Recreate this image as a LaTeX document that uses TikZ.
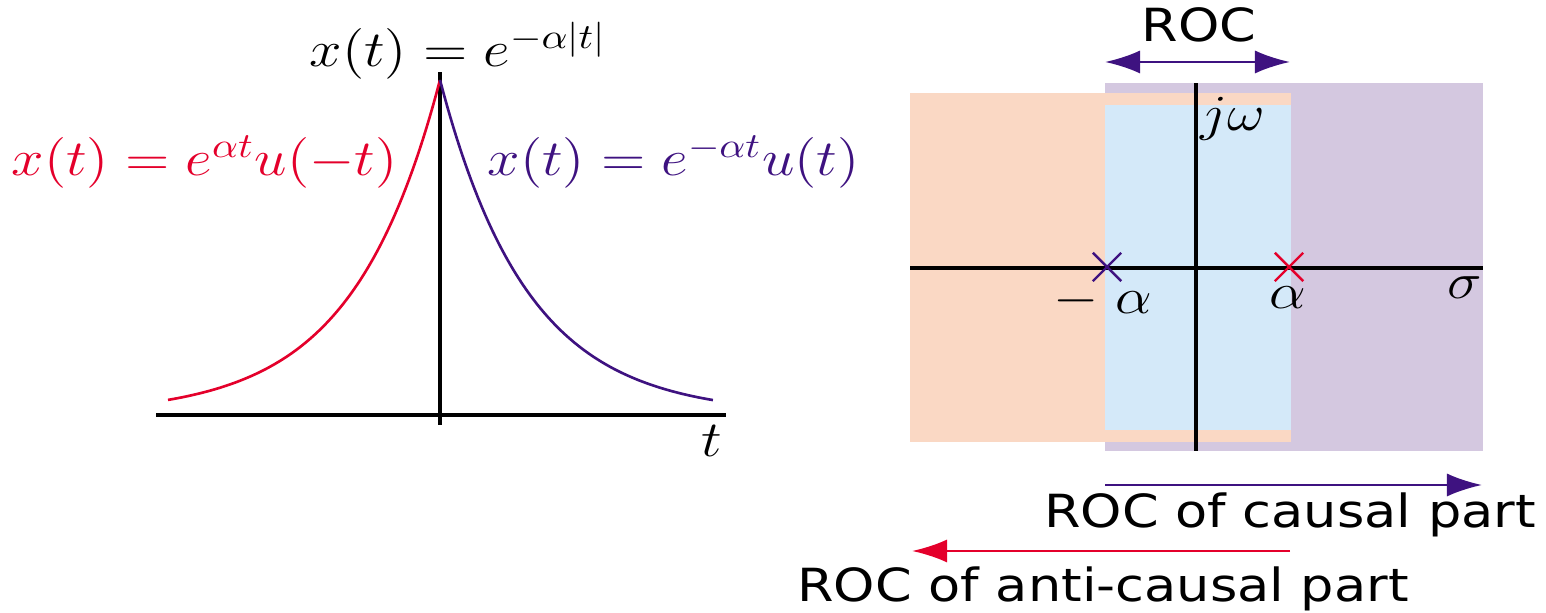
\documentclass[tikz,border=0pt]{standalone}
\usepackage{fontspec}
\usepackage{amsmath}
\usepackage{graphicx}
\usetikzlibrary{arrows.meta,positioning,shapes.misc}

\newfontfamily\rocfont[FakeStretch=1.15]{DejaVu Sans}
\newcommand{\wide}[1]{\scalebox{1.15}[1]{#1}}

\definecolor{causal}{RGB}{62,18,128}
\definecolor{anticausal}{RGB}{228,0,43}
\definecolor{orangefill}{RGB}{250,216,196}
\definecolor{purplefill}{RGB}{212,200,224}
\definecolor{bluefill}{RGB}{212,233,249}

\begin{document}
\begin{tikzpicture}[
  axis/.style={line width=0.9pt},
  curve/.style={line width=0.75pt},
  mlabel/.style={inner sep=0pt, font=\fontsize{14}{16}\selectfont},
  roclabel/.style={inner sep=0pt, font=\rocfont\fontsize{13}{15}\selectfont},
  pole/.style={cross out, draw, line width=0.7pt, minimum size=0.26cm, inner sep=0pt},
  arrow/.style={-{Latex[length=10pt,width=6.6pt]}, line width=0.75pt},
  dblarrow/.style={{Latex[length=10pt,width=6.6pt]}-{Latex[length=10pt,width=6.6pt]}, line width=0.75pt}
]
\useasboundingbox (0,0) rectangle (15.46,-6.13);

% x(t) versus t
\coordinate (tl) at (1.56,-4.15);
\coordinate (tr) at (7.26,-4.15);
\coordinate (xb) at (4.40,-4.25);
\coordinate (xt) at (4.40,-0.72);
\draw[axis] (tl) -- (tr);
\draw[axis] (xb) -- (xt);
\draw[curve, anticausal, domain=-2.72:0, samples=80] plot ({4.40+\x},{-4.15+3.35*exp(1.14*\x)});
\draw[curve, causal, domain=0:2.73, samples=80] plot ({4.40+\x},{-4.15+3.35*exp(-1.14*\x)});

\node[mlabel, anchor=base west] (xall) at (3.09,-0.67) {\wide{$x(t)=e^{-\alpha\left|t\right|}$}};
\node[mlabel, anchor=base east, text=anticausal] (xanti) at (3.98,-1.76) {\wide{$x(t)=e^{\alpha t}u(-t)$}};
\node[mlabel, anchor=base west, text=causal] (xcaus) at (4.87,-1.76) {\wide{$x(t)=e^{-\alpha t}u(t)$}};
\node[mlabel, anchor=base] (tlbl) at (7.12,-4.57) {\wide{$t$}};

% s-plane
\fill[purplefill] (11.05,-0.83) rectangle (14.83,-4.51);
\fill[orangefill] (9.10,-0.93) rectangle (12.91,-4.42);
\fill[bluefill] (11.05,-1.05) rectangle (12.91,-4.30);

\coordinate (sl) at (9.10,-2.68);
\coordinate (sr) at (14.83,-2.68);
\coordinate (wb) at (11.96,-4.51);
\coordinate (wt) at (11.96,-0.83);
\draw[axis] (sl) -- (sr);
\draw[axis] (wb) -- (wt);

\node[pole, causal] (pneg) at (11.07,-2.67) {};
\node[pole, anticausal] (ppos) at (12.89,-2.67) {};

\node[mlabel, anchor=base] (negalpha) at (11.03,-3.14) {\wide{$-\;\alpha$}};
\node[mlabel, anchor=base] (posalpha) at (12.88,-3.09) {\wide{$\alpha$}};
\node[mlabel, anchor=base] (sigma) at (14.65,-2.99) {\wide{$\sigma$}};
\node[mlabel, anchor=base west] (jw) at (12.00,-1.31) {\wide{$j\omega$}};

% regions of convergence
\coordinate (rocl) at (11.05,-0.62);
\coordinate (rocr) at (12.90,-0.62);
\draw[dblarrow, causal] (rocl) -- (rocr);
\node[roclabel, anchor=base] (roc) at (11.99,-0.42) {ROC};

\coordinate (cs) at (11.05,-4.85);
\coordinate (ce) at (14.82,-4.85);
\draw[arrow, causal] (cs) -- (ce);
\node[roclabel, anchor=base] (roccaus) at (12.90,-5.28) {ROC of causal part};

\coordinate (as) at (12.90,-5.51);
\coordinate (ae) at (9.12,-5.51);
\draw[arrow, anticausal] (as) -- (ae);
\node[roclabel, anchor=base] (rocanti) at (11.03,-6.02) {ROC of anti-causal part};
\end{tikzpicture}
\end{document}
